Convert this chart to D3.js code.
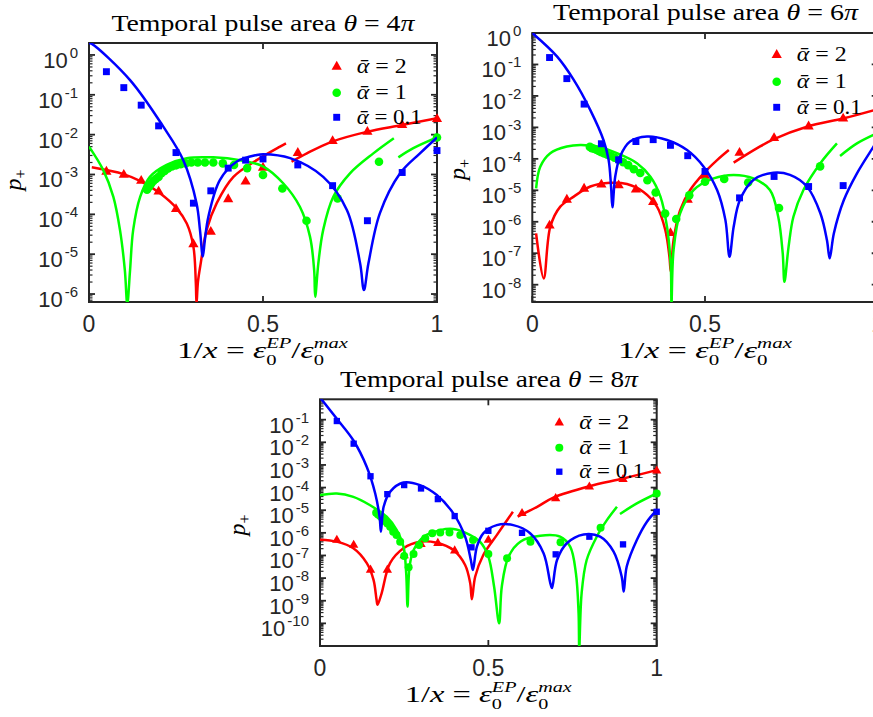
<!DOCTYPE html>
<html>
<head>
<meta charset="utf-8">
<script src="https://cdn.jsdelivr.net/npm/d3@7"></script>
<style>
  body { margin: 0; background: #fff; }
  svg { display: block; }
  text { white-space: pre; }
</style>
</head>
<body>
<div id="chart"></div>
<script>
// values, x = 1/x and y = log10(p+)

const alphaLabels = ["2", "1", "0.1"];
const markerXs = [0.05, 0.1, 0.15, 0.2, 0.25, 0.3, 0.35, 0.4, 0.45, 0.5, 0.6, 0.7, 0.8, 0.9, 1];
const greenXs = [0.1667, 0.1724, 0.1786, 0.1852, 0.1923, 0.2, 0.2083, 0.2174, 0.2273, 0.2381, 0.25, 0.2632,
  0.2778, 0.2941, 0.3125, 0.3333, 0.3571, 0.3846, 0.4167, 0.4545, 0.5, 0.5556, 0.625, 0.7143, 0.8333, 1];

// theta = 4 pi
const t4RedLines = [
  [[0.008, -2.82], [0.099, -2.99], [0.151, -3.18], [0.204, -3.47], [0.252, -3.85], [0.281, -4.23], [0.300, -4.81],
   [0.307, -5.73], [0.309, -6.25], [0.313, -5.7], [0.321, -5.23], [0.338, -4.39], [0.367, -3.72], [0.415, -3.06],
   [0.482, -2.64], [0.549, -2.30], [0.566, -2.22]],
  [[0.582, -2.68], [0.626, -2.47], [0.697, -2.18], [0.798, -1.93], [0.899, -1.76], [1.0, -1.59]]
];
const t4GreenLines = [
  [[0, -2.30], [0.041, -2.89], [0.070, -3.56], [0.089, -4.39], [0.103, -5.40], [0.110, -6.25], [0.118, -5.40],
   [0.127, -4.39], [0.147, -3.56], [0.175, -3.06], [0.223, -2.76], [0.281, -2.59], [0.357, -2.57], [0.434, -2.64],
   [0.501, -2.80], [0.558, -3.22], [0.606, -3.81], [0.635, -4.56], [0.647, -5.40], [0.650, -6.07], [0.659, -5.23],
   [0.673, -4.39], [0.702, -3.56], [0.750, -2.97], [0.817, -2.47], [0.876, -2.09]],
  [[0.889, -2.57], [0.932, -2.34], [1.0, -2.07]]
];
const t4BlueLines = [
  [[0, 0.30], [0.008, 0.28], [0.118, -0.63], [0.2135, -1.80], [0.271, -2.64], [0.309, -3.72], [0.319, -4.4],
   [0.327, -5.06], [0.333, -4.64], [0.343, -4.06], [0.376, -3.14], [0.424, -2.68], [0.482, -2.51], [0.501, -2.49],
   [0.578, -2.59], [0.673, -3.06], [0.741, -3.89], [0.779, -5.23], [0.790, -5.90], [0.803, -5.23], [0.836, -3.97],
   [0.894, -2.97], [0.951, -2.47], [1.0, -2.07]]
];
const t4RedPts = [-2.93, -3.01, -3.16, -3.43, -3.87, -4.75, -4.44, -3.62, -3.18, -2.83, -2.46, -2.16, -1.93, -1.76, -1.61];
const t4GreenPts = [-3.38, -3.31, -3.23, -3.16, -3.11, -3.06, -2.97, -2.91, -2.85, -2.80, -2.77, -2.74, -2.72, -2.70,
  -2.70, -2.70, -2.70, -2.72, -2.76, -2.84, -3.01, -3.35, -4.16, -3.60, -2.68, -2.07];
const t4BluePts = [-0.42, -0.82, -1.26, -1.78, -2.45, -3.72, -3.41, -2.84, -2.64, -2.61, -2.76, -3.28, -4.16, -2.95, -2.40];

// theta = 6 pi
const t6RedLines = [
  [[0.011, -6.37], [0.033, -7.80], [0.052, -6.16], [0.081, -5.52], [0.12, -5.20], [0.168, -4.88], [0.226, -4.76],
   [0.274, -4.80], [0.322, -5.05], [0.361, -5.52], [0.385, -6.26], [0.397, -7.11], [0.401, -7.59], [0.409, -6.58],
   [0.428, -5.63], [0.457, -4.99], [0.496, -4.46], [0.535, -4.04], [0.569, -3.72]],
  [[0.583, -4.12], [0.651, -3.66], [0.698, -3.38], [0.795, -2.98], [0.902, -2.71], [1.0, -2.42]]
];
const t6GreenLines = [
  [[0.011, -4.94], [0.023, -4.25], [0.052, -3.82], [0.1, -3.61], [0.139, -3.56], [0.187, -3.61], [0.245, -3.82],
   [0.303, -4.14], [0.342, -4.57], [0.371, -5.20], [0.390, -6.16], [0.401, -7.43], [0.403, -8.6], [0.409, -6.90],
   [0.428, -5.73], [0.467, -4.99], [0.525, -4.62], [0.583, -4.51], [0.64, -4.62], [0.688, -4.99], [0.712, -5.84],
   [0.725, -7.0], [0.730, -7.91], [0.742, -6.79], [0.756, -5.84], [0.785, -4.99], [0.834, -4.14], [0.882, -3.51]],
  [[0.891, -3.91], [0.94, -3.51], [1.0, -3.18]]
];
const t6BlueLines = [
  [[0, 0], [0.072, -0.75], [0.12, -1.49], [0.168, -2.45], [0.206, -3.40], [0.221, -4.04], [0.228, -4.88],
   [0.232, -5.54], [0.24, -4.57], [0.254, -3.93], [0.283, -3.45], [0.332, -3.29], [0.39, -3.40], [0.448, -3.72],
   [0.496, -4.25], [0.535, -4.99], [0.559, -5.94], [0.571, -7.11], [0.583, -6.16], [0.601, -5.31], [0.64, -4.67],
   [0.698, -4.44], [0.746, -4.51], [0.795, -4.88], [0.834, -5.73], [0.853, -6.58], [0.861, -7.16], [0.873, -6.37],
   [0.902, -5.31], [0.94, -4.46], [0.988, -3.61], [1.0, -3.4]]
];
const t6RedPts = [-6.12, -5.30, -4.95, -4.82, -4.84, -4.98, -5.37, -6.36, -5.30, -4.54, -3.81, -3.34, -2.97, -2.72];
const t6GreenPts = [-3.62, -3.66, -3.68, -3.71, -3.75, -3.79, -3.83, -3.87, -3.91, -3.96, -4.03, -4.11, -4.20,
  -4.33, -4.45, -4.68, -5.07, -5.74, -5.91, -5.16, -4.73, -4.64, -4.75, -5.56, -4.24];
const t6BluePts = [-0.78, -1.45, -2.26, -3.52, -4.03, -3.45, -3.39, -3.57, -3.90, -4.40, -5.24, -4.56, -4.88, -4.85];

// theta = 8 pi
const t8RedLines = [
  [[0, -6.30], [0.05, -6.39], [0.099, -6.68], [0.139, -7.34], [0.159, -8.08], [0.168, -8.96], [0.171, -9.18],
   [0.183, -8.67], [0.208, -7.34], [0.248, -6.68], [0.297, -6.39], [0.347, -6.44], [0.396, -6.76], [0.431, -7.42],
   [0.446, -8.22], [0.451, -8.93], [0.461, -7.93], [0.485, -6.98], [0.525, -6.10], [0.573, -5.07]],
  [[0.587, -5.28], [0.645, -4.85], [0.693, -4.44], [0.8, -3.94], [0.901, -3.60], [1.0, -3.23]]
];
const t8GreenLines = [
  [[0, -4.33], [0.05, -4.26], [0.099, -4.41], [0.149, -4.78], [0.198, -5.29], [0.228, -5.88], [0.248, -6.61],
   [0.256, -7.78], [0.26, -9.26], [0.266, -7.49], [0.278, -6.76], [0.308, -6.17], [0.357, -5.88], [0.396, -5.83],
   [0.436, -6.02], [0.475, -6.39], [0.5, -7.05], [0.517, -8.37], [0.532, -10.0], [0.540, -8.37], [0.560, -7.05],
   [0.595, -6.39], [0.654, -6.13], [0.713, -6.17], [0.743, -6.61], [0.760, -7.78], [0.768, -9.55], [0.770, -11.1],
   [0.777, -8.67], [0.792, -7.20], [0.822, -6.17], [0.852, -5.44], [0.882, -4.85]],
  [[0.891, -5.17], [0.941, -4.70], [1.0, -4.26]]
];
const t8BlueLines = [
  [[0, -0.02], [0.05, -0.96], [0.099, -1.91], [0.139, -3.09], [0.164, -4.26], [0.177, -5.29], [0.181, -5.95],
   [0.189, -4.85], [0.208, -4.19], [0.248, -3.78], [0.297, -3.89], [0.347, -4.33], [0.396, -5.14], [0.431, -6.17],
   [0.448, -7.20], [0.454, -7.64], [0.466, -6.61], [0.485, -6.02], [0.525, -5.66], [0.574, -5.66], [0.624, -6.02],
   [0.664, -6.90], [0.684, -8.22], [0.689, -8.44], [0.704, -7.20], [0.733, -6.46], [0.783, -6.07], [0.832, -6.17],
   [0.872, -6.83], [0.896, -7.93], [0.902, -8.59], [0.911, -7.49], [0.941, -6.32], [0.971, -5.51], [1.0, -5.0]]
];
const t8RedPts = [-6.32, -6.54, -7.64, -7.64, -7.0, -6.51, -6.46, -6.79, null, -6.32, -5.14, -4.48, -3.97, -3.64, -3.26];
const t8GreenPts = [-5.11, -5.19, -5.26, -5.37, -5.48, -5.59, -5.73, -5.95, -6.10, -6.39, -7.02, -7.52, -6.93, -6.54,
  -6.24, -6.02, -5.98, -5.98, -6.10, -6.32, -6.93, -7.12, -6.39, -6.42, -5.78, -4.26];
const t8BluePts = [-1.06, -2.06, -3.50, -4.29, -3.89, -4.04, -4.51, -5.26, -6.64, -5.91, -6.00, -6.95, -6.17, -6.51, -5.07];

const xTicks = [0, 0.5, 1];
const xTickLabels = ["0", "0.5", "1"];

const W = 873, H = 717;
const RED = "#ff0000", GREEN = "#00ff00", BLUE = "#0000ff", AX = "#262626";
const serif = "'Liberation Serif', 'DejaVu Serif', serif";
const sans = "'Liberation Sans', Arial, sans-serif";

const svg = d3.select("#chart").append("svg").attr("width", W).attr("height", H);
svg.append("rect").attr("width", W).attr("height", H).attr("fill", "#fff");

function zip(xs, ys) {
  return xs.map((v, i) => [v, ys[i]]).filter(d => d[1] !== null && d[1] !== undefined);
}

// draws a row of math pieces and squeezes it to the width seen in the figure
function mathText(parent, pieces, x0, base, target, size, anchor) {
  const g = parent.append("g");
  let cur = 0;
  pieces.forEach(pc => {
    const t = g.append("text").attr("x", cur).attr("y", base)
      .attr("font-family", serif).attr("font-size", size).attr("fill", "#000")
      .attr("font-style", pc.it ? "italic" : "normal").text(pc.t);
    cur += t.node().getComputedTextLength();
    if (pc.sub || pc.sup) {
      let w = 0;
      if (pc.sub) {
        const s = g.append("text").attr("x", cur).attr("y", base + size * 0.3)
          .attr("font-family", serif).attr("font-size", size * 0.62).text(pc.sub);
        w = Math.max(w, s.node().getComputedTextLength());
      }
      if (pc.sup) {
        const s = g.append("text").attr("x", cur).attr("y", base - size * 0.42)
          .attr("font-family", serif).attr("font-size", size * 0.62).attr("font-style", "italic").text(pc.sup);
        w = Math.max(w, s.node().getComputedTextLength());
      }
      cur += w;
    }
  });
  const left = anchor === "start" ? x0 : x0 - target / 2;
  g.attr("transform", "translate(" + left + ",0) scale(" + (target / cur) + ",1)");
}

function drawPanel(p) {
  const x = d3.scaleLinear().domain([0, 1]).range([p.left, p.right]);
  const y = d3.scaleLog().domain([Math.pow(10, p.yExp[0]), Math.pow(10, p.yExp[1])]).range([p.bottom, p.top]);
  const py = lp => y(Math.pow(10, lp));

  const g = svg.append("g");

  // clip for the curves only, markers sit on the frame
  const clipId = "clip-" + p.id;
  g.append("clipPath").attr("id", clipId).append("rect")
    .attr("x", p.left).attr("y", p.top).attr("width", p.right - p.left).attr("height", p.bottom - p.top);

  // frame
  g.append("rect").attr("x", p.left).attr("y", p.top)
    .attr("width", p.right - p.left).attr("height", p.bottom - p.top)
    .attr("fill", "none").attr("stroke", AX).attr("stroke-width", 2);

  // log ticks, left and right
  const ticks = g.append("g").attr("stroke", AX).attr("stroke-width", 1.2);
  for (let e = Math.floor(p.yExp[0]); e <= Math.ceil(p.yExp[1]); e++) {
    for (let m = 1; m <= 9; m++) {
      const v = m * Math.pow(10, e);
      const lv = Math.log10(v);
      if (lv < p.yExp[0] || lv > p.yExp[1]) continue;
      const len = m === 1 ? 6 : 3.5;
      const yy = y(v);
      ticks.append("line").attr("x1", p.left).attr("x2", p.left + len).attr("y1", yy).attr("y2", yy)
        .attr("stroke-width", m === 1 ? 1.8 : 1.2);
      ticks.append("line").attr("x1", p.right).attr("x2", p.right - len).attr("y1", yy).attr("y2", yy)
        .attr("stroke-width", m === 1 ? 1.8 : 1.2);
    }
  }
  xTicks.forEach(v => {
    ticks.append("line").attr("x1", x(v)).attr("x2", x(v)).attr("y1", p.bottom).attr("y2", p.bottom - 6).attr("stroke-width", 1.8);
    ticks.append("line").attr("x1", x(v)).attr("x2", x(v)).attr("y1", p.top).attr("y2", p.top + 6).attr("stroke-width", 1.8);
  });

  // tick labels
  xTicks.forEach((v, i) => {
    g.append("text").attr("x", x(v)).attr("y", p.bottom + 30)
      .attr("text-anchor", "middle").attr("font-family", sans).attr("font-size", 23)
      .attr("fill", AX).text(xTickLabels[i]);
  });
  p.labelExps.forEach(e => {
    const t = g.append("text").attr("x", p.left - 11).attr("y", py(e) + 13)
      .attr("text-anchor", "end").attr("font-family", sans).attr("font-size", 22).attr("fill", AX);
    t.append("tspan").text("10");
    t.append("tspan").attr("dx", 2).attr("dy", -10).attr("font-size", 15).text(String(e));
  });

  // curves and markers, one alpha at a time
  const line = d3.line().x(d => x(d[0])).y(d => py(d[1])).curve(d3.curveCatmullRom.alpha(0.5));
  const tri = d3.symbol().type(d3.symbolTriangle).size(p.tri);
  const sq = d3.symbol().type(d3.symbolSquare).size(p.sq);

  const series = [
    { lines: p.redLines, pts: zip(p.redXs, p.redPts), color: RED, shape: "tri" },
    { lines: p.greenLines, pts: zip(p.greenXs, p.greenPts), color: GREEN, shape: "circ" },
    { lines: p.blueLines, pts: zip(p.blueXs, p.bluePts), color: BLUE, shape: "sq" }
  ];

  function marker(sel, shape, color) {
    if (shape === "circ") {
      sel.append("circle").attr("r", p.r).attr("fill", color);
    } else {
      sel.append("path").attr("d", shape === "tri" ? tri() : sq()).attr("fill", color);
    }
  }

  series.forEach(s => {
    g.append("g").attr("clip-path", "url(#" + clipId + ")")
      .selectAll("path").data(s.lines).enter().append("path")
      .attr("d", line).attr("fill", "none").attr("stroke", s.color)
      .attr("stroke-width", 2.5).attr("stroke-linejoin", "round");
    g.append("g").selectAll("g").data(s.pts).enter().append("g")
      .attr("transform", d => "translate(" + x(d[0]) + "," + py(d[1]) + ")")
      .each(function () { marker(d3.select(this), s.shape, s.color); });
  });

  // legend
  const shapes = ["tri", "circ", "sq"], cols = [RED, GREEN, BLUE], widths = [50, 50, 65];
  alphaLabels.forEach((lab, i) => {
    const ly = p.legY[i];
    marker(g.append("g").attr("transform", "translate(" + p.legX + "," + ly + ")"), shapes[i], cols[i]);
    mathText(g, [{ t: "\u1FB1", it: true }, { t: " = " + lab }], p.legX + 20, ly + 6.5, widths[i], 20, "start");
  });

  // title and axis labels
  mathText(g, [{ t: "Temporal pulse area " }, { t: "\u03B8", it: true }, { t: " = " + p.n }, { t: "\u03C0", it: true }],
    p.titleX, p.titleY, p.titleW, 23);
  mathText(g, [{ t: "1/" }, { t: "x", it: true }, { t: " = " }, { t: "\u03B5", it: true, sub: "0", sup: "EP" },
    { t: "/" }, { t: "\u03B5", it: true, sub: "0", sup: "max" }], p.xlabX, p.xlabY, p.xlabW, 23);
  const yl = g.append("text").attr("transform", "translate(" + p.ylabX + "," + p.ylabY + ") rotate(-90)")
    .attr("text-anchor", "middle").attr("font-family", serif).attr("font-size", 24);
  yl.append("tspan").attr("font-style", "italic").text("p");
  yl.append("tspan").attr("dy", 5).attr("font-size", 16).text("+");
}

drawPanel({
  id: "t4", n: "4", left: 89, right: 437, top: 43, bottom: 302, yExp: [-6.2, 0.3],
  labelExps: [0, -1, -2, -3, -4, -5, -6],
  redLines: t4RedLines, greenLines: t4GreenLines, blueLines: t4BlueLines,
  redXs: markerXs, redPts: t4RedPts, greenXs: greenXs, greenPts: t4GreenPts, blueXs: markerXs, bluePts: t4BluePts,
  tri: 45, sq: 48, r: 4.3,
  legX: 336.7, legY: [66.7, 92.7, 117.3],
  titleX: 263, titleY: 31, titleW: 303,
  xlabX: 262.5, xlabY: 358, xlabW: 171,
  ylabX: 21, ylabY: 180
});

drawPanel({
  id: "t6", n: "6", left: 532.3, right: 877.7, top: 33, bottom: 302, yExp: [-8.55, 0],
  labelExps: [0, -1, -2, -3, -4, -5, -6, -7, -8],
  redLines: t6RedLines, greenLines: t6GreenLines, blueLines: t6BlueLines,
  redXs: markerXs, redPts: t6RedPts, greenXs: greenXs, greenPts: t6GreenPts, blueXs: markerXs, bluePts: t6BluePts,
  tri: 45, sq: 48, r: 4.3,
  legX: 776.7, legY: [55, 81.7, 107.3],
  titleX: 705.5, titleY: 20, titleW: 305,
  xlabX: 705, xlabY: 358, xlabW: 174,
  ylabX: 465, ylabY: 169.5
});

drawPanel({
  id: "t8", n: "8", left: 320, right: 656.7, top: 399.3, bottom: 646, yExp: [-11, -0.1],
  labelExps: [-1, -2, -3, -4, -5, -6, -7, -8, -9, -10],
  redLines: t8RedLines, greenLines: t8GreenLines, blueLines: t8BlueLines,
  redXs: markerXs, redPts: t8RedPts, greenXs: greenXs, greenPts: t8GreenPts, blueXs: markerXs, bluePts: t8BluePts,
  tri: 38, sq: 40, r: 4,
  legX: 559.3, legY: [422.7, 447.7, 471.7],
  titleX: 489, titleY: 386.7, titleW: 298,
  xlabX: 488.3, xlabY: 702, xlabW: 167,
  ylabX: 245, ylabY: 525
});
</script>
</body>
</html>
